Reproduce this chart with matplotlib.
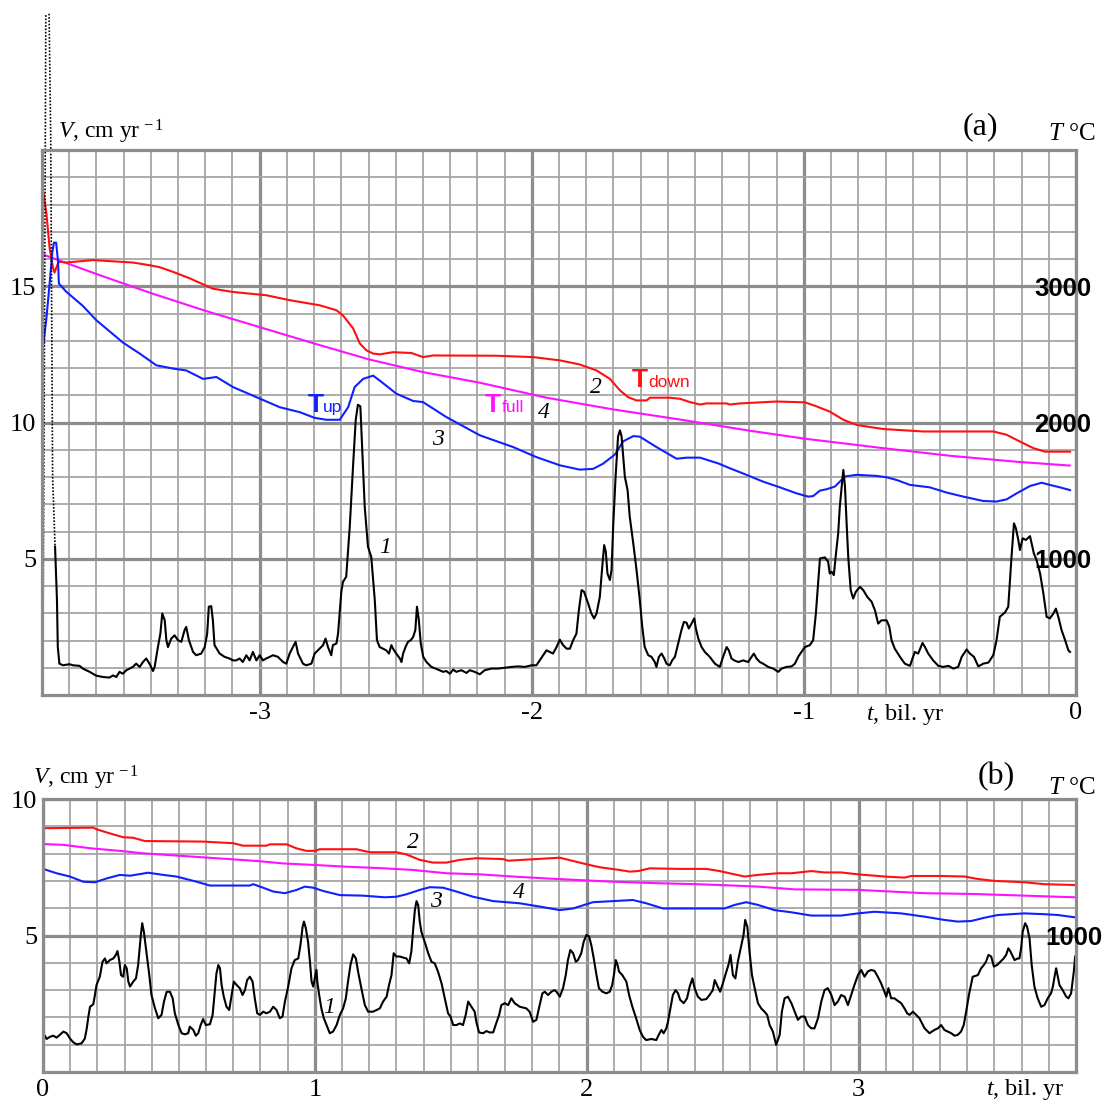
import matplotlib.pyplot as plt
from matplotlib.ticker import MultipleLocator, FixedLocator

plt.rcParams['font.family'] = ['Liberation Serif', 'DejaVu Serif']
plt.rcParams['mathtext.fontset'] = 'custom'
plt.rcParams['mathtext.rm'] = 'Liberation Serif'
plt.rcParams['mathtext.it'] = 'Liberation Serif:italic'
plt.rcParams['axes.unicode_minus'] = False

# ---------------- panel (a): t in bil. yr (negative), V in cm/yr ----------------
# curve 1 (black) - velocity
t1a = [-3.752, -3.745, -3.742, -3.736, -3.723, -3.699, -3.686, -3.662, -3.650, -3.625,
       -3.601, -3.576, -3.552, -3.539, -3.527, -3.515, -3.503, -3.490, -3.466, -3.454,
       -3.441, -3.429, -3.417, -3.405, -3.392, -3.386, -3.374, -3.365, -3.358, -3.349,
       -3.343, -3.337, -3.325, -3.313, -3.300, -3.288, -3.276, -3.270, -3.260, -3.245,
       -3.233, -3.215, -3.202, -3.193, -3.187, -3.178, -3.172, -3.166, -3.147, -3.129,
       -3.111, -3.098, -3.086, -3.074, -3.062, -3.049, -3.037, -3.025, -3.012, -3.000,
       -2.988, -2.976, -2.963, -2.951, -2.933, -2.914, -2.902, -2.890, -2.878, -2.868,
       -2.859, -2.841, -2.829, -2.810, -2.798, -2.780, -2.767, -2.758, -2.749, -2.737,
       -2.731, -2.718, -2.712, -2.700, -2.694, -2.682, -2.669, -2.657, -2.647, -2.639,
       -2.630, -2.623, -2.614, -2.602, -2.590, -2.577, -2.569, -2.559, -2.547, -2.535,
       -2.525, -2.516, -2.510, -2.498, -2.485, -2.479, -2.473, -2.464, -2.455, -2.445,
       -2.436, -2.428, -2.422, -2.415, -2.408, -2.399, -2.387, -2.369, -2.344, -2.326,
       -2.314, -2.301, -2.289, -2.277, -2.259, -2.240, -2.228, -2.210, -2.191, -2.173,
       -2.148, -2.124, -2.099, -2.075, -2.050, -2.026, -2.001, -1.983, -1.971, -1.958,
       -1.946, -1.934, -1.922, -1.909, -1.897, -1.885, -1.872, -1.860, -1.848, -1.836,
       -1.827, -1.817, -1.808, -1.793, -1.781, -1.771, -1.762, -1.750, -1.741, -1.734,
       -1.728, -1.722, -1.713, -1.707, -1.701, -1.692, -1.683, -1.676, -1.670, -1.664,
       -1.658, -1.648, -1.640, -1.627, -1.615, -1.603, -1.594, -1.585, -1.572, -1.560,
       -1.548, -1.542, -1.533, -1.523, -1.513, -1.505, -1.493, -1.484, -1.474, -1.462,
       -1.450, -1.441, -1.431, -1.423, -1.413, -1.403, -1.397, -1.388, -1.376, -1.364,
       -1.346, -1.327, -1.309, -1.297, -1.284, -1.276, -1.266, -1.256, -1.241, -1.223,
       -1.205, -1.192, -1.184, -1.174, -1.162, -1.150, -1.131, -1.113, -1.094, -1.082,
       -1.064, -1.045, -1.033, -1.021, -1.009, -0.996, -0.978, -0.966, -0.956, -0.947,
       -0.941, -0.923, -0.911, -0.905, -0.898, -0.890, -0.882, -0.874, -0.868, -0.860,
       -0.855, -0.849, -0.843, -0.837, -0.828, -0.819, -0.809, -0.794, -0.782, -0.767,
       -0.751, -0.739, -0.727, -0.715, -0.696, -0.686, -0.678, -0.666, -0.647, -0.629,
       -0.610, -0.601, -0.592, -0.580, -0.564, -0.555, -0.543, -0.525, -0.506, -0.488,
       -0.469, -0.451, -0.433, -0.420, -0.402, -0.390, -0.375, -0.359, -0.341, -0.322,
       -0.304, -0.292, -0.280, -0.261, -0.249, -0.237, -0.228, -0.221, -0.212, -0.206,
       -0.196, -0.184, -0.169, -0.163, -0.155, -0.145, -0.132, -0.120, -0.108, -0.096,
       -0.083, -0.074, -0.065, -0.053, -0.040, -0.028, -0.022]
v1a = [5.44, 3.48, 1.76, 1.15, 1.09, 1.13, 1.09, 1.07, 0.97, 0.85,
       0.71, 0.66, 0.64, 0.72, 0.66, 0.85, 0.78, 0.91, 1.03, 1.15,
       1.03, 1.21, 1.34, 1.15, 0.88, 1.03, 1.76, 2.25, 2.99, 2.74,
       2.01, 1.76, 2.07, 2.19, 2.01, 1.95, 2.38, 2.50, 2.01, 1.58,
       1.46, 1.52, 1.76, 2.25, 3.24, 3.26, 2.74, 1.83, 1.52, 1.40,
       1.34, 1.27, 1.27, 1.34, 1.21, 1.46, 1.27, 1.58, 1.27, 1.46,
       1.27, 1.34, 1.40, 1.46, 1.40, 1.21, 1.15, 1.52, 1.76, 1.95,
       1.52, 1.15, 1.09, 1.15, 1.52, 1.70, 1.83, 2.07, 1.76, 1.46,
       1.83, 1.89, 2.25, 3.79, 4.15, 4.34, 6.18, 8.38, 10.10, 10.65,
       10.59, 9.00, 6.91, 5.44, 5.07, 3.48, 2.01, 1.76, 1.70, 1.64,
       1.52, 1.83, 1.70, 1.52, 1.34, 1.21, 1.52, 1.76, 1.95, 2.01,
       2.13, 2.38, 3.24, 2.74, 1.89, 1.40, 1.21, 1.03, 0.93, 0.85,
       0.88, 0.78, 0.93, 0.85, 0.91, 0.81, 0.91, 0.85, 0.76, 0.91,
       0.97, 0.97, 1.00, 1.03, 1.05, 1.03, 1.09, 1.09, 1.27, 1.46,
       1.64, 1.58, 1.52, 1.76, 2.03, 1.83, 1.70, 1.70, 2.01, 2.25,
       3.11, 3.85, 3.79, 3.36, 2.99, 2.81, 2.99, 3.60, 4.71, 5.50,
       5.26, 4.46, 4.22, 4.58, 6.18, 8.01, 9.49, 9.71, 9.49, 8.75,
       8.01, 7.52, 6.54, 5.56, 4.58, 3.48, 2.50, 1.76, 1.46, 1.40,
       1.21, 1.03, 1.40, 1.52, 1.34, 1.15, 1.09, 1.27, 1.40, 1.89,
       2.38, 2.68, 2.65, 2.44, 2.62, 2.81, 2.44, 2.07, 1.76, 1.58,
       1.40, 1.15, 1.03, 1.40, 1.76, 1.64, 1.34, 1.27, 1.21, 1.27,
       1.21, 1.40, 1.52, 1.34, 1.21, 1.15, 1.03, 0.97, 0.85, 0.97,
       1.03, 1.05, 1.15, 1.40, 1.58, 1.76, 1.83, 2.01, 2.99, 4.22,
       5.01, 5.05, 4.89, 4.46, 4.52, 4.40, 5.20, 5.93, 6.91, 7.77,
       8.26, 7.65, 6.30, 5.07, 3.85, 3.54, 3.79, 3.97, 3.85, 3.60,
       3.42, 3.11, 2.62, 2.74, 2.74, 2.50, 2.01, 1.70, 1.40, 1.15,
       1.07, 1.34, 1.58, 1.52, 1.91, 1.76, 1.52, 1.27, 1.07, 1.03,
       1.07, 0.97, 1.03, 1.40, 1.67, 1.52, 1.40, 1.05, 1.15, 1.19,
       1.46, 2.01, 2.87, 3.03, 3.24, 5.07, 6.30, 6.12, 5.69, 5.32,
       5.75, 5.69, 5.83, 5.56, 5.20, 4.95, 4.46, 3.73, 2.87, 2.81,
       2.99, 3.17, 2.87, 2.38, 2.01, 1.64, 1.58]

# off-scale start of curve 1 (drawn dotted above the frame)
tdot_left = [-3.797, -3.790, -3.786]
vdot_left = [0.3, 15.0, 25.0]
tdot_right = [-3.774, -3.768, -3.761, -3.752]
vdot_right = [25.0, 20.5, 8.0, 5.44]

# curve 2 (red) - T down
t2a = [-3.806, -3.797, -3.784, -3.772, -3.760, -3.754, -3.741, -3.735, -3.711, -3.613,
       -3.466, -3.404, -3.368, -3.319, -3.257, -3.172, -3.098, -2.976, -2.890, -2.779,
       -2.718, -2.694, -2.657, -2.632, -2.608, -2.583, -2.559, -2.510, -2.442, -2.400,
       -2.363, -2.130, -1.995, -1.897, -1.824, -1.762, -1.713, -1.676, -1.646, -1.615,
       -1.578, -1.566, -1.493, -1.456, -1.419, -1.382, -1.358, -1.284, -1.272, -1.235,
       -1.101, -0.996, -0.953, -0.905, -0.855, -0.806, -0.708, -0.561, -0.304, -0.255,
       -0.206, -0.157, -0.114, -0.022]
v2a = [19.2, 18.6, 17.7, 16.4, 15.7, 15.5, 15.85, 15.9, 15.87, 15.96,
       15.87, 15.77, 15.70, 15.53, 15.29, 14.91, 14.79, 14.67, 14.49, 14.30,
       14.12, 13.93, 13.46, 12.90, 12.65, 12.53, 12.50, 12.58, 12.55, 12.40,
       12.46, 12.45, 12.40, 12.28, 12.13, 11.91, 11.60, 11.18, 10.93, 10.81,
       10.81, 10.91, 10.91, 10.87, 10.75, 10.66, 10.70, 10.70, 10.66, 10.70,
       10.77, 10.74, 10.59, 10.40, 10.10, 9.91, 9.76, 9.67, 9.67, 9.55,
       9.30, 9.06, 8.93, 8.93]

# curve 3 (blue) - T up
t3a = [-3.809, -3.806, -3.797, -3.784, -3.772, -3.762, -3.756, -3.748, -3.741, -3.738,
       -3.711, -3.650, -3.600, -3.502, -3.441, -3.380, -3.319, -3.270, -3.208, -3.159,
       -3.098, -3.012, -2.926, -2.853, -2.798, -2.755, -2.706, -2.675, -2.651, -2.620,
       -2.583, -2.559, -2.498, -2.436, -2.400, -2.314, -2.191, -2.069, -1.983, -1.897,
       -1.824, -1.774, -1.738, -1.695, -1.664, -1.627, -1.603, -1.542, -1.468, -1.431,
       -1.382, -1.315, -1.272, -1.211, -1.150, -1.088, -1.027, -0.984, -0.966, -0.941,
       -0.917, -0.886, -0.862, -0.849, -0.806, -0.733, -0.696, -0.659, -0.610, -0.537,
       -0.476, -0.414, -0.341, -0.292, -0.255, -0.218, -0.169, -0.126, -0.096, -0.059,
       -0.022]
v3a = [7.5, 11.0, 12.7, 13.8, 15.1, 16.25, 16.6, 16.6, 15.9, 15.1,
       14.8, 14.28, 13.75, 12.93, 12.53, 12.10, 11.98, 11.91, 11.60, 11.67,
       11.30, 10.93, 10.56, 10.38, 10.17, 10.10, 10.10, 10.56, 11.30, 11.60,
       11.72, 11.54, 11.06, 10.79, 10.75, 10.20, 9.53, 9.10, 8.73, 8.43,
       8.27, 8.30, 8.49, 8.82, 9.31, 9.50, 9.48, 9.10, 8.67, 8.71,
       8.71, 8.50, 8.32, 8.08, 7.83, 7.62, 7.40, 7.28, 7.30, 7.50,
       7.55, 7.65, 7.89, 8.02, 8.08, 8.04, 7.99, 7.89, 7.71, 7.62,
       7.43, 7.28, 7.12, 7.10, 7.18, 7.40, 7.67, 7.79, 7.71, 7.62,
       7.52]

# curve 4 (magenta) - T full
t4a = [-3.806, -3.6, -3.4, -3.2, -3.0, -2.8, -2.6, -2.4, -2.191, -1.946,
       -1.701, -1.456, -1.2, -1.0, -0.71, -0.464, -0.219, -0.023]
v4a = [16.2, 15.45, 14.75, 14.1, 13.5, 12.9, 12.32, 11.85, 11.46, 10.91,
       10.48, 10.11, 9.70, 9.41, 9.06, 8.78, 8.56, 8.42]

# ---------------- panel (b): t in bil. yr (positive) ----------------
t1b = [0.0, 0.007, 0.013, 0.026, 0.038, 0.050, 0.062, 0.075, 0.087, 0.099,
       0.111, 0.124, 0.142, 0.154, 0.161, 0.167, 0.173, 0.185, 0.191, 0.197,
       0.209, 0.219, 0.228, 0.234, 0.246, 0.259, 0.268, 0.274, 0.281, 0.287,
       0.295, 0.301, 0.308, 0.314, 0.320, 0.332, 0.342, 0.350, 0.360, 0.365,
       0.371, 0.381, 0.391, 0.399, 0.412, 0.424, 0.436, 0.445, 0.455, 0.467,
       0.477, 0.485, 0.498, 0.510, 0.522, 0.534, 0.540, 0.553, 0.562, 0.571,
       0.580, 0.589, 0.599, 0.614, 0.624, 0.632, 0.638, 0.645, 0.651, 0.657,
       0.665, 0.675, 0.685, 0.694, 0.702, 0.712, 0.724, 0.734, 0.743, 0.751,
       0.761, 0.771, 0.779, 0.788, 0.798, 0.810, 0.822, 0.835, 0.847, 0.859,
       0.871, 0.881, 0.890, 0.902, 0.914, 0.926, 0.939, 0.947, 0.955, 0.960,
       0.967, 0.975, 0.982, 0.988, 0.994, 1.000, 1.006, 1.009, 1.016, 1.024,
       1.033, 1.043, 1.055, 1.067, 1.080, 1.092, 1.104, 1.114, 1.122, 1.131,
       1.141, 1.151, 1.159, 1.171, 1.184, 1.196, 1.214, 1.227, 1.239, 1.251,
       1.264, 1.273, 1.282, 1.290, 1.300, 1.313, 1.325, 1.337, 1.347, 1.355,
       1.362, 1.368, 1.374, 1.380, 1.386, 1.392, 1.404, 1.417, 1.429, 1.441,
       1.453, 1.466, 1.478, 1.490, 1.499, 1.509, 1.521, 1.533, 1.545, 1.555,
       1.564, 1.576, 1.588, 1.594, 1.604, 1.619, 1.631, 1.643, 1.656, 1.665,
       1.678, 1.686, 1.699, 1.711, 1.723, 1.735, 1.754, 1.778, 1.790, 1.803,
       1.815, 1.827, 1.837, 1.846, 1.858, 1.870, 1.882, 1.889, 1.901, 1.913,
       1.923, 1.931, 1.940, 1.950, 1.960, 1.968, 1.980, 1.989, 1.999, 2.009,
       2.017, 2.026, 2.036, 2.045, 2.058, 2.072, 2.085, 2.094, 2.101, 2.107,
       2.112, 2.119, 2.131, 2.146, 2.156, 2.168, 2.180, 2.195, 2.207, 2.219,
       2.238, 2.256, 2.266, 2.275, 2.283, 2.293, 2.299, 2.308, 2.317, 2.327,
       2.336, 2.344, 2.357, 2.369, 2.379, 2.389, 2.397, 2.409, 2.422, 2.440,
       2.452, 2.464, 2.471, 2.479, 2.491, 2.501, 2.514, 2.523, 2.529, 2.538,
       2.547, 2.556, 2.569, 2.577, 2.583, 2.591, 2.599, 2.608, 2.618, 2.630,
       2.642, 2.654, 2.664, 2.673, 2.685, 2.697, 2.710, 2.718, 2.728, 2.740,
       2.753, 2.765, 2.777, 2.789, 2.802, 2.814, 2.826, 2.838, 2.851, 2.863,
       2.875, 2.887, 2.900, 2.912, 2.924, 2.936, 2.949, 2.961, 2.973, 2.985,
       2.998, 3.010, 3.022, 3.034, 3.047, 3.059, 3.071, 3.083, 3.093, 3.102,
       3.110, 3.120, 3.132, 3.145, 3.157, 3.169, 3.179, 3.188, 3.200, 3.212,
       3.224, 3.243, 3.261, 3.279, 3.292, 3.304, 3.316, 3.341, 3.353, 3.365,
       3.377, 3.387, 3.396, 3.406, 3.420, 3.439, 3.451, 3.461, 3.469, 3.478,
       3.488, 3.498, 3.510, 3.522, 3.534, 3.543, 3.551, 3.559, 3.574, 3.586,
       3.592, 3.598, 3.604, 3.613, 3.620, 3.629, 3.637, 3.647, 3.659, 3.672,
       3.684, 3.696, 3.708, 3.715, 3.721, 3.727, 3.733, 3.739, 3.751, 3.764,
       3.772, 3.782, 3.792, 3.797]
v1b = [1.38, 1.33, 1.21, 1.29, 1.33, 1.26, 1.36, 1.48, 1.42, 1.23,
       1.09, 1.01, 1.05, 1.23, 1.60, 2.03, 2.39, 2.48, 2.82, 3.19,
       3.49, 4.04, 4.16, 3.98, 4.10, 4.16, 4.29, 4.43, 4.04, 3.55,
       3.49, 3.92, 3.80, 3.31, 3.13, 3.31, 3.43, 3.92, 5.02, 5.45,
       5.14, 4.35, 3.55, 2.82, 2.33, 1.97, 2.09, 2.58, 2.94, 2.94,
       2.70, 2.15, 1.72, 1.42, 1.38, 1.42, 1.66, 1.54, 1.33, 1.42,
       1.72, 1.94, 1.72, 1.75, 2.09, 2.94, 3.61, 3.92, 3.80, 3.19,
       2.76, 2.39, 2.27, 2.82, 3.31, 3.19, 3.07, 2.82, 3.00, 3.37,
       3.49, 3.31, 2.70, 2.15, 2.09, 2.21, 2.15, 2.21, 2.39, 2.27,
       1.97, 2.03, 2.58, 3.13, 3.80, 4.10, 4.16, 4.65, 5.32, 5.51,
       5.26, 4.77, 4.04, 3.31, 3.13, 3.43, 3.74, 3.31, 2.82, 2.33,
       1.97, 1.72, 1.42, 1.48, 1.72, 2.09, 2.33, 2.70, 3.31, 3.92,
       4.31, 4.16, 3.68, 3.07, 2.45, 2.21, 2.21, 2.27, 2.33, 2.58,
       2.76, 3.19, 3.55, 4.35, 4.23, 4.23, 4.19, 4.16, 3.98, 4.41,
       5.26, 5.93, 6.26, 6.12, 5.51, 5.14, 4.77, 4.35, 4.04, 3.98,
       3.68, 3.25, 2.70, 2.15, 2.03, 1.72, 1.72, 1.78, 1.72, 2.09,
       2.58, 2.39, 2.21, 1.84, 1.45, 1.42, 1.50, 1.45, 1.45, 1.72,
       2.09, 2.45, 2.52, 2.45, 2.70, 2.52, 2.39, 2.33, 2.21, 1.84,
       1.91, 2.45, 2.88, 2.94, 2.82, 2.94, 3.00, 2.94, 2.76, 3.07,
       3.55, 4.10, 4.47, 4.35, 4.04, 4.10, 4.35, 4.77, 5.02, 4.96,
       4.65, 4.16, 3.55, 3.07, 2.94, 2.88, 2.94, 3.19, 3.61, 4.10,
       3.98, 3.68, 3.55, 3.31, 2.82, 2.39, 2.03, 1.54, 1.29, 1.17,
       1.21, 1.17, 1.38, 1.54, 1.42, 1.60, 1.84, 2.33, 2.82, 3.00,
       2.88, 2.64, 2.52, 2.70, 3.13, 3.43, 3.07, 2.76, 2.64, 2.67,
       2.82, 3.00, 3.37, 3.19, 2.94, 3.25, 3.68, 3.98, 4.29, 3.55,
       3.43, 4.04, 4.65, 5.02, 5.57, 5.32, 4.41, 3.55, 3.07, 2.52,
       2.33, 2.21, 2.09, 1.72, 1.48, 0.99, 1.36, 2.21, 2.70, 2.76,
       2.52, 2.21, 1.91, 2.03, 2.03, 1.72, 1.60, 1.60, 1.97, 2.58,
       3.00, 3.07, 2.82, 2.45, 2.58, 2.82, 2.76, 2.45, 2.82, 3.19,
       3.55, 3.74, 3.49, 3.68, 3.74, 3.70, 3.49, 3.25, 3.00, 2.76,
       3.07, 2.70, 2.70, 2.60, 2.52, 2.33, 2.15, 2.09, 2.21, 2.09,
       1.97, 1.60, 1.42, 1.54, 1.60, 1.72, 1.54, 1.42, 1.33, 1.36,
       1.48, 1.72, 2.21, 2.82, 3.49, 3.55, 3.80, 3.92, 4.04, 4.29,
       4.23, 3.86, 3.92, 4.04, 4.16, 4.29, 4.53, 4.41, 4.10, 4.16,
       4.16, 4.53, 5.14, 5.45, 5.32, 4.90, 3.92, 3.13, 2.70, 2.39,
       2.45, 2.70, 2.88, 3.13, 3.49, 3.80, 3.49, 3.19, 3.00, 2.76,
       2.70, 2.88, 3.68, 4.23]

t2b = [0.0, 0.185, 0.197, 0.246, 0.295, 0.332, 0.375, 0.589, 0.700, 0.736,
       0.822, 0.835, 0.896, 0.933, 0.969, 1.000, 1.018, 1.153, 1.202, 1.300,
       1.337, 1.386, 1.435, 1.484, 1.533, 1.594, 1.692, 1.711, 1.901, 1.950,
       1.999, 2.048, 2.121, 2.158, 2.189, 2.232, 2.342, 2.440, 2.489, 2.544,
       2.581, 2.630, 2.703, 2.753, 2.826, 2.875, 2.936, 2.998, 3.096, 3.169,
       3.194, 3.304, 3.390, 3.439, 3.500, 3.610, 3.684, 3.794]
v2b = [8.93, 8.95, 8.89, 8.74, 8.60, 8.58, 8.46, 8.44, 8.38, 8.29,
       8.29, 8.34, 8.34, 8.19, 8.10, 8.10, 8.16, 8.16, 8.05, 8.05,
       7.97, 7.77, 7.67, 7.67, 7.77, 7.83, 7.80, 7.74, 7.85, 7.73,
       7.61, 7.50, 7.40, 7.34, 7.36, 7.46, 7.44, 7.44, 7.36, 7.24,
       7.16, 7.22, 7.28, 7.28, 7.36, 7.31, 7.31, 7.24, 7.16, 7.12,
       7.18, 7.18, 7.16, 7.07, 7.00, 6.95, 6.88, 6.85]

t3b = [0.0, 0.050, 0.099, 0.148, 0.191, 0.234, 0.283, 0.320, 0.387, 0.442,
       0.491, 0.565, 0.614, 0.761, 0.773, 0.810, 0.847, 0.890, 0.933, 0.963,
       0.994, 1.031, 1.092, 1.177, 1.257, 1.300, 1.337, 1.386, 1.423, 1.472,
       1.521, 1.582, 1.656, 1.754, 1.827, 1.901, 1.950, 2.023, 2.097, 2.170,
       2.219, 2.281, 2.342, 2.464, 2.507, 2.544, 2.587, 2.630, 2.691, 2.753,
       2.826, 2.936, 2.998, 3.059, 3.157, 3.243, 3.316, 3.365, 3.414, 3.463,
       3.512, 3.610, 3.684, 3.733, 3.794]
v3b = [7.44, 7.28, 7.16, 6.97, 6.95, 7.09, 7.22, 7.19, 7.30, 7.22,
       7.16, 6.97, 6.83, 6.83, 6.88, 6.75, 6.61, 6.55, 6.67, 6.79,
       6.75, 6.63, 6.48, 6.46, 6.40, 6.42, 6.51, 6.67, 6.77, 6.75,
       6.61, 6.42, 6.26, 6.18, 6.06, 5.93, 5.99, 6.22, 6.26, 6.30,
       6.18, 5.99, 5.99, 5.99, 5.99, 6.12, 6.22, 6.12, 5.93, 5.85,
       5.73, 5.73, 5.81, 5.87, 5.81, 5.69, 5.57, 5.51, 5.53, 5.65,
       5.75, 5.81, 5.78, 5.75, 5.67]

t4b = [0.0, 0.075, 0.179, 0.283, 0.369, 0.504, 0.638, 0.786, 0.883, 1.006,
       1.116, 1.257, 1.362, 1.484, 1.607, 1.729, 1.852, 1.974, 2.097, 2.281,
       2.403, 2.538, 2.630, 2.765, 2.998, 3.120, 3.243, 3.426, 3.610, 3.794]
v4b = [8.35, 8.32, 8.19, 8.10, 8.01, 7.92, 7.83, 7.73, 7.64, 7.58,
       7.52, 7.46, 7.40, 7.28, 7.24, 7.16, 7.09, 7.03, 6.97, 6.91,
       6.88, 6.83, 6.79, 6.69, 6.67, 6.61, 6.55, 6.52, 6.46, 6.40]

T_ticks_a = [1000, 2000, 3000]
T_ticks_b = [1000]

RED = '#ff1010'
BLUE = '#1020ff'
MAG = '#ff10ff'
GRID_MAJ = '#8c8c8c'
GRID_MIN = '#a6a6a6'

W, H = 1104, 1101
fig = plt.figure(figsize=(W / 100, H / 100), dpi=100)
ax_a = fig.add_axes([42 / W, 1 - 695 / H, (1076 - 42) / W, 545 / H])
ax_b = fig.add_axes([43 / W, 1 - 1072 / H, (1076 - 43) / W, 273 / H])


def style(ax, xlim, ylim, yticks):
    ax.set_xlim(*xlim)
    ax.set_ylim(*ylim)
    ax.xaxis.set_major_locator(MultipleLocator(1))
    ax.xaxis.set_minor_locator(MultipleLocator(0.1))
    ax.yaxis.set_major_locator(FixedLocator(yticks))
    ax.yaxis.set_minor_locator(MultipleLocator(1))
    ax.grid(which='major', color=GRID_MAJ, lw=2.3)
    ax.grid(which='minor', color=GRID_MIN, lw=1.3)
    ax.set_axisbelow(True)
    ax.tick_params(which='both', length=0, labelsize=19)
    ax.tick_params(axis='x', pad=5)
    ax.tick_params(axis='y', pad=4)
    for s in ax.spines.values():
        s.set_color(GRID_MAJ)
        s.set_linewidth(2.3)


def temp_axis(ax, top, ticks, pad):
    axt = ax.twinx()
    axt.set_ylim(0, top)
    axt.set_yticks(ticks)
    axt.tick_params(length=0, pad=pad, labelsize=18.5, labelfontfamily='Liberation Sans')
    for lab in axt.get_yticklabels():
        lab.set_fontweight('bold')
    for s in axt.spines.values():
        s.set_visible(False)
    return axt


style(ax_a, (-3.8, 0), (0, 20), [5, 10, 15])
style(ax_b, (0, 3.8), (0, 10), [5, 10])
temp_axis(ax_a, 4000, T_ticks_a, -30)
temp_axis(ax_b, 2000, T_ticks_b, -22)

lw = 1.5
ax_a.plot(t4a, v4a, color=MAG, lw=lw)
ax_a.plot(t2a, v2a, color=RED, lw=lw)
ax_a.plot(t3a, v3a, color=BLUE, lw=lw)
ax_a.plot(t1a, v1a, color='black', lw=lw)
ax_a.plot(tdot_left, vdot_left, color='black', lw=1.2, ls=(0, (1, 1)), clip_on=False)
ax_a.plot(tdot_right, vdot_right, color='black', lw=1.2, ls=(0, (1, 1)), clip_on=False)

ax_b.plot(t4b, v4b, color=MAG, lw=lw)
ax_b.plot(t2b, v2b, color=RED, lw=lw)
ax_b.plot(t3b, v3b, color=BLUE, lw=lw)
ax_b.plot(t1b, v1b, color='black', lw=lw)

# curve numbers
num_kw = dict(fontsize=17, style='italic', va='baseline')
ax_a.text(-2.5625, 5.22, '1', **num_kw)
ax_a.text(-1.787, 11.10, '2', **num_kw)
ax_a.text(-2.368, 9.19, '3', **num_kw)
ax_a.text(-1.978, 10.18, '4', **num_kw)
ax_b.text(1.029, 2.16, '1', **num_kw)
ax_b.text(1.338, 8.21, '2', **num_kw)
ax_b.text(1.423, 6.04, '3', **num_kw)
ax_b.text(1.728, 6.37, '4', **num_kw)

# T labels
big = dict(fontfamily='Liberation Sans', fontweight='bold', fontsize=19, va='baseline')
sub = dict(fontfamily='Liberation Sans', fontsize=12.5, va='baseline')
ax_a.text(-2.8235, 10.40, 'T', color=BLUE, **big)
ax_a.text(-2.766, 10.40, 'up', color=BLUE, **sub)
ax_a.text(-2.173, 10.37, 'T', color=MAG, **big)
ax_a.text(-2.112, 10.37, 'full', color=MAG, **sub)
ax_a.text(-1.632, 11.29, 'T', color=RED, **big)
ax_a.text(-1.573, 11.29, 'down', color=RED, **sub)

# axis titles
vlab = r'$\mathit{V}$, cm yr$^{\,-1}$'
fig.text(58 / W, 1 - 138 / H, vlab, fontsize=17, va='baseline')
fig.text(963 / W, 1 - 134 / H, '(a)', fontsize=23, va='baseline')
fig.text(1095 / W, 1 - 140 / H, r'$\mathit{T}$ °C', fontsize=18, va='baseline', ha='right')
fig.text(866 / W, 1 - 720 / H, r'$\mathit{t}$, bil. yr', fontsize=17.5, va='baseline')

fig.text(33 / W, 1 - 784 / H, vlab, fontsize=17, va='baseline')
fig.text(978 / W, 1 - 784 / H, '(b)', fontsize=23, va='baseline')
fig.text(1095 / W, 1 - 794 / H, r'$\mathit{T}$ °C', fontsize=18, va='baseline', ha='right')
fig.text(986 / W, 1 - 1095 / H, r'$\mathit{t}$, bil. yr', fontsize=17.5, va='baseline')

fig.savefig('out.png', dpi=100, facecolor='white')
